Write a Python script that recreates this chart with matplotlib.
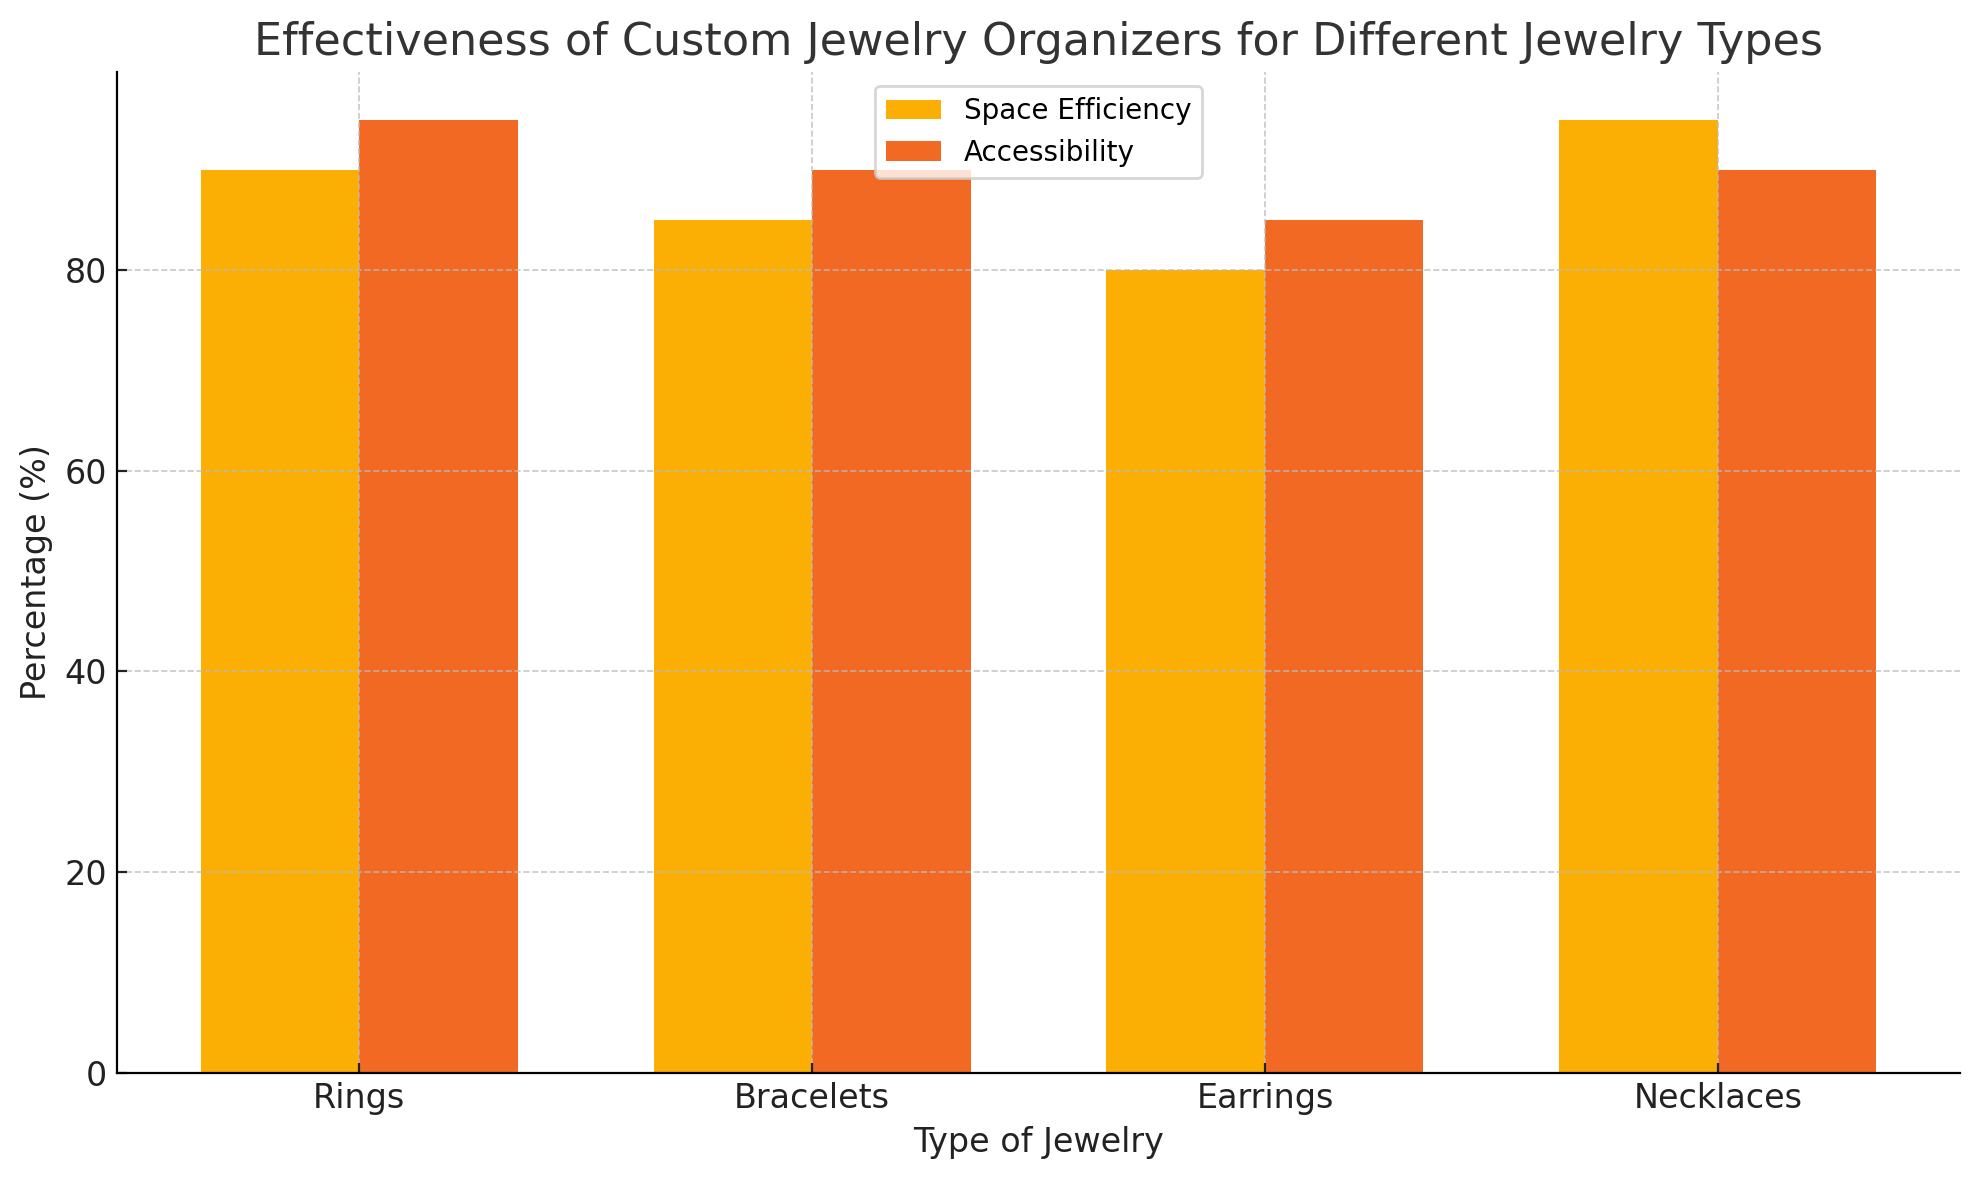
import numpy as np
import matplotlib
matplotlib.use("Agg")
import matplotlib.pyplot as plt

categories = ["Rings", "Bracelets", "Earrings", "Necklaces"]
space_efficiency = [90, 85, 80, 95]
accessibility = [95, 90, 85, 90]

x = np.arange(len(categories))
width = 0.35

fig, ax = plt.subplots(figsize=(9.9, 5.9), dpi=200)
ax.bar(x - width / 2, space_efficiency, width, label="Space Efficiency", color="#FBAE04")
ax.bar(x + width / 2, accessibility, width, label="Accessibility", color="#F26923")

ax.set_title("Effectiveness of Custom Jewelry Organizers for Different Jewelry Types",
             fontsize=16, color="#333333")
ax.set_xlabel("Type of Jewelry", fontsize=12, color="#222222")
ax.set_ylabel("Percentage (%)", fontsize=12, color="#222222")
ax.set_xticks(x)
ax.set_xticklabels(categories, fontsize=12)
ax.tick_params(axis="both", direction="in", labelsize=12, colors="#222222")
# grid sits over the bars, as in the original
ax.grid(True, linestyle="--", color="#bbbbbb", linewidth=0.6, alpha=0.8)
ax.spines["top"].set_visible(False)
ax.spines["right"].set_visible(False)
ax.legend(loc="upper center", fontsize=10)

fig.subplots_adjust(left=0.059, right=0.990, top=0.939, bottom=0.091)
fig.savefig("out.png")
